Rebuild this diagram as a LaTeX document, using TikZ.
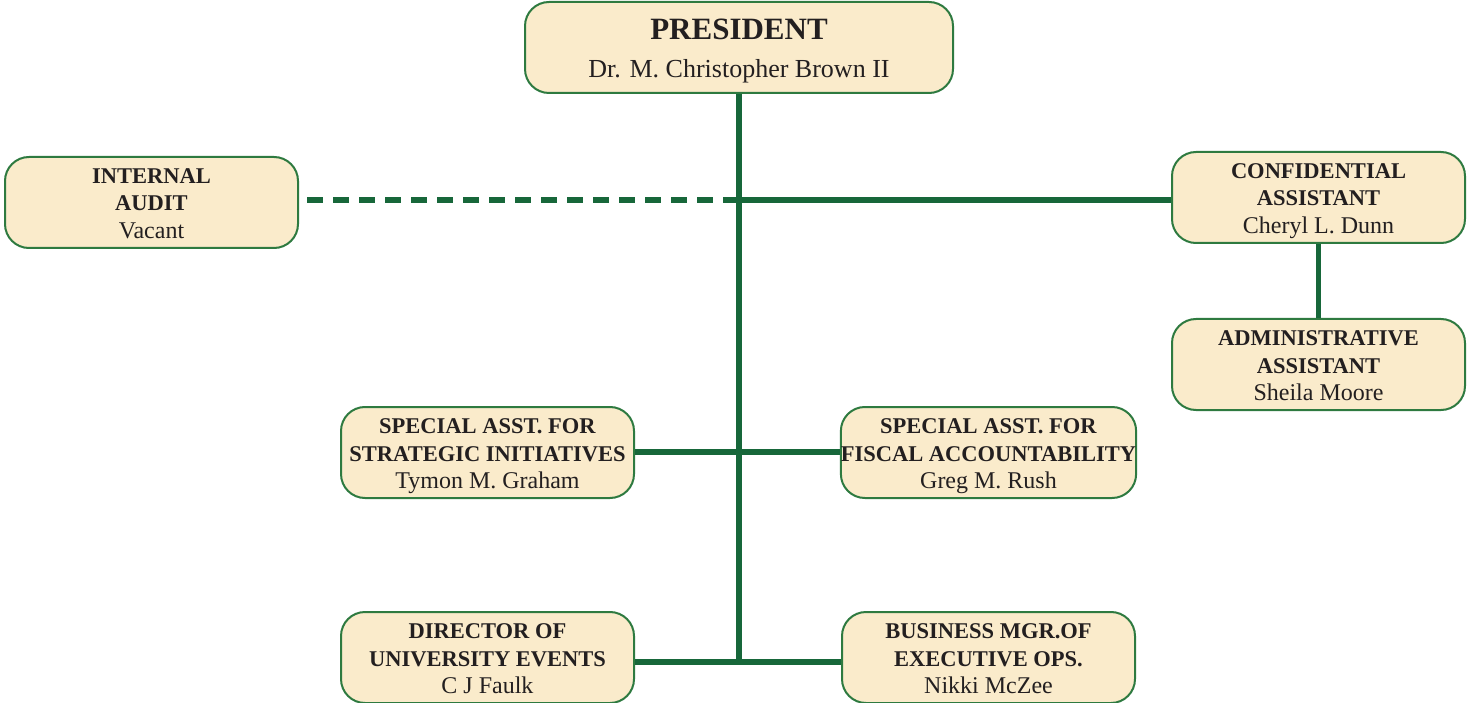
\documentclass[tikz,border=0pt]{standalone}
\usepackage{fontspec}
\setmainfont{Liberation Serif}
\definecolor{linegreen}{HTML}{17673A}
\definecolor{boxfill}{HTML}{FAEBCB}
\definecolor{boxedge}{HTML}{2E7A40}
\definecolor{txt}{HTML}{231F20}
\newcommand{\nm}[1]{{\fontsize{24}{27.5}\selectfont #1}}
\begin{document}
\begin{tikzpicture}[x=1pt,y=-1pt,
  box/.style={draw=boxedge, line width=2pt, fill=boxfill, rounded corners=24pt,
    minimum width=293pt, minimum height=91pt, align=center, text=txt, inner sep=0pt,
    text height=78pt, text depth=6pt,
    font=\fontsize{22.5}{27.5}\selectfont},
  conn/.style={draw=linegreen, line width=5.5pt},
  dconn/.style={draw=linegreen, line width=5.5pt, dash pattern=on 16pt off 10pt}]
\useasboundingbox (0,0) rectangle (1467,703);

\node[box, minimum width=428pt, text height=67pt, text depth=6pt,
  font=\fontsize{26}{38}\selectfont] (pres) at (739,47.5)
  {{\fontsize{31}{38}\selectfont\bfseries PRESIDENT}\\Dr. M. Christopher Brown II};
\node[box] (audit) at (151.5,202.5) {\textbf{INTERNAL}\\\textbf{AUDIT}\\\nm{Vacant}};
\node[box] (conf) at (1318.5,197.5) {\textbf{CONFIDENTIAL}\\\textbf{ASSISTANT}\\\nm{Cheryl L. Dunn}};
\node[box] (admin) at (1318.5,364.5) {\textbf{ADMINISTRATIVE}\\\textbf{ASSISTANT}\\\nm{Sheila Moore}};
\node[box] (strat) at (487.5,452.5) {\textbf{SPECIAL ASST. FOR}\\\textbf{STRATEGIC INITIATIVES}\\\nm{Tymon M. Graham}};
\node[box] (fisc) at (988.5,452.5) {\textbf{SPECIAL ASST. FOR}\\\textbf{FISCAL ACCOUNTABILITY}\\\nm{Greg M. Rush}};
\node[box] (dir) at (487.5,657.5) {\textbf{DIRECTOR OF}\\\textbf{UNIVERSITY EVENTS}\\\nm{C J Faulk}};
\node[box] (bus) at (988.5,657.5) {\textbf{BUSINESS MGR.OF}\\\textbf{EXECUTIVE OPS.}\\\nm{Nikki McZee}};

\coordinate (t1) at (739,200);
\coordinate (t2) at (739,452);
\coordinate (t3) at (739,662);
\coordinate (dashend) at (307,200);

\draw[conn] (pres.south) -- (t3);
\draw[conn] (t1) -- (t1 -| conf.west);
\draw[dconn] (dashend) -- (t1);
\draw[conn] (t2 -| strat.east) -- (t2 -| fisc.west);
\draw[conn] (t3 -| dir.east) -- (t3 -| bus.west);
\draw[conn] (conf.south) -- (admin.north);
\end{tikzpicture}
\end{document}
